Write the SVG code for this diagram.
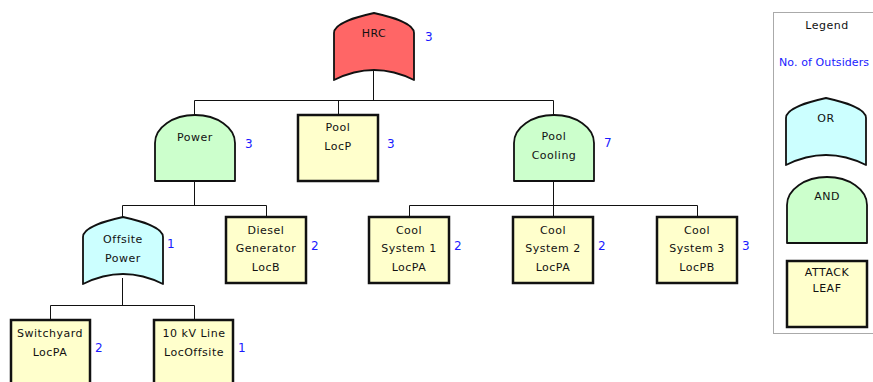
<svg xmlns="http://www.w3.org/2000/svg" width="873" height="382" viewBox="0 0 873 382">
  <style>
    .lbl { font-family: "DejaVu Sans", Verdana, sans-serif; font-size: 11px; letter-spacing: 0.5px; fill: #111; text-anchor: middle; }
    .num { font-family: "DejaVu Sans", Verdana, sans-serif; font-size: 12px; fill: #1a1aff; }
    .key { font-family: "DejaVu Sans", Verdana, sans-serif; font-size: 11px; letter-spacing: 0.1px; fill: #1a1aff; }
    .gate { stroke: #111; stroke-width: 1.8; stroke-linejoin: round; }
    .or-red { fill: #ff6666; }
    .or-cyan { fill: #ccffff; }
    .and { fill: #ccffcc; }
    .leaf { fill: #ffffcc; stroke: #111; stroke-width: 2.5; }
    .wire { fill: none; stroke: #111; stroke-width: 1; }
  </style>
  <defs>
    <!-- OR gate: peaked top, concave bottom (80 x 67) -->
    <path id="orShape" d="M0,20 C0,10 22,4 40,0 C58,4 80,10 80,20 L80,67 Q40,47 0,67 Z"/>
    <!-- AND gate: domed top, flat bottom (80 x 66) -->
    <path id="andShape" d="M0,66 L0,28 A40,28 0 0 1 80,28 L80,66 Z"/>
  </defs>

  <rect width="873" height="382" fill="#ffffff"/>

  <!-- connectors -->
  <g id="connectors">
    <path class="wire" d="M373.5,70 V100.5 M194.5,100.5 H553.5 M194.5,100.5 V115 M338.5,100.5 V115 M553.5,100.5 V115"/>
    <path class="wire" d="M194.5,181 V205.5 M122.5,205.5 H266.5 M122.5,205.5 V217 M266.5,205.5 V217"/>
    <path class="wire" d="M553.5,181 V205.5 M409.5,205.5 H697.5 M409.5,205.5 V217 M553.5,205.5 V217 M697.5,205.5 V217"/>
    <path class="wire" d="M122.5,278 V305.5 M50.5,305.5 H194.5 M50.5,305.5 V320 M194.5,305.5 V320"/>
  </g>

  <!-- HRC (OR) -->
  <g id="hrc">
    <use href="#orShape" class="gate or-red" transform="translate(334,13)"/>
    <text class="lbl" x="374" y="37">HRC</text>
    <text class="num" x="425" y="41">3</text>
  </g>

  <!-- Power (AND) -->
  <g id="power">
    <use href="#andShape" class="gate and" transform="translate(155,115)"/>
    <text class="lbl" x="195" y="141">Power</text>
    <text class="num" x="245" y="148">3</text>
  </g>

  <!-- Pool LocP (leaf) -->
  <g id="pool-locp">
    <rect class="leaf" x="298" y="115" width="80" height="66"/>
    <text class="lbl" x="338" y="131">Pool</text>
    <text class="lbl" x="338" y="150">LocP</text>
    <text class="num" x="387" y="148">3</text>
  </g>

  <!-- Pool Cooling (AND) -->
  <g id="pool-cooling">
    <use href="#andShape" class="gate and" transform="translate(514,115)"/>
    <text class="lbl" x="554" y="140">Pool</text>
    <text class="lbl" x="554" y="159">Cooling</text>
    <text class="num" x="604" y="147">7</text>
  </g>

  <!-- Offsite Power (OR) -->
  <g id="offsite-power">
    <use href="#orShape" class="gate or-cyan" transform="translate(83,217)"/>
    <text class="lbl" x="123" y="243">Offsite</text>
    <text class="lbl" x="123" y="262">Power</text>
    <text class="num" x="167" y="248">1</text>
  </g>

  <!-- Diesel Generator LocB (leaf) -->
  <g id="diesel">
    <rect class="leaf" x="226" y="217" width="80" height="66"/>
    <text class="lbl" x="266" y="234">Diesel</text>
    <text class="lbl" x="266" y="252">Generator</text>
    <text class="lbl" x="266" y="271">LocB</text>
    <text class="num" x="311" y="250">2</text>
  </g>

  <!-- Cool System 1 -->
  <g id="cool-1">
    <rect class="leaf" x="369" y="217" width="80" height="66"/>
    <text class="lbl" x="409" y="234">Cool</text>
    <text class="lbl" x="409" y="252">System 1</text>
    <text class="lbl" x="409" y="271">LocPA</text>
    <text class="num" x="454" y="250">2</text>
  </g>

  <!-- Cool System 2 -->
  <g id="cool-2">
    <rect class="leaf" x="513" y="217" width="80" height="66"/>
    <text class="lbl" x="553" y="234">Cool</text>
    <text class="lbl" x="553" y="252">System 2</text>
    <text class="lbl" x="553" y="271">LocPA</text>
    <text class="num" x="598" y="250">2</text>
  </g>

  <!-- Cool System 3 -->
  <g id="cool-3">
    <rect class="leaf" x="657" y="217" width="80" height="66"/>
    <text class="lbl" x="697" y="234">Cool</text>
    <text class="lbl" x="697" y="252">System 3</text>
    <text class="lbl" x="697" y="271">LocPB</text>
    <text class="num" x="742" y="250">3</text>
  </g>

  <!-- Switchyard LocPA -->
  <g id="switchyard">
    <rect class="leaf" x="11" y="320" width="79" height="66"/>
    <text class="lbl" x="50" y="337">Switchyard</text>
    <text class="lbl" x="50" y="356">LocPA</text>
    <text class="num" x="95" y="352">2</text>
  </g>

  <!-- 10 kV Line LocOffsite -->
  <g id="line-10kv">
    <rect class="leaf" x="154" y="320" width="79" height="66"/>
    <text class="lbl" x="194" y="337">10 kV Line</text>
    <text class="lbl" x="194" y="356">LocOffsite</text>
    <text class="num" x="238" y="352">1</text>
  </g>

  <!-- Legend -->
  <g id="legend">
    <rect x="773.5" y="12.5" width="120" height="321" fill="#ffffff" stroke="#aaaaaa" stroke-width="1"/>
    <text class="lbl" x="827" y="29">Legend</text>
    <text class="key" x="779" y="66">No. of Outsiders</text>
    <use href="#orShape" class="gate or-cyan" transform="translate(786,98)"/>
    <text class="lbl" x="826" y="122">OR</text>
    <use href="#andShape" class="gate and" transform="translate(787,177)"/>
    <text class="lbl" x="827" y="200">AND</text>
    <rect class="leaf" x="787" y="261" width="80" height="66"/>
    <text class="lbl" x="827" y="276">ATTACK</text>
    <text class="lbl" x="827" y="292">LEAF</text>
  </g>
</svg>
